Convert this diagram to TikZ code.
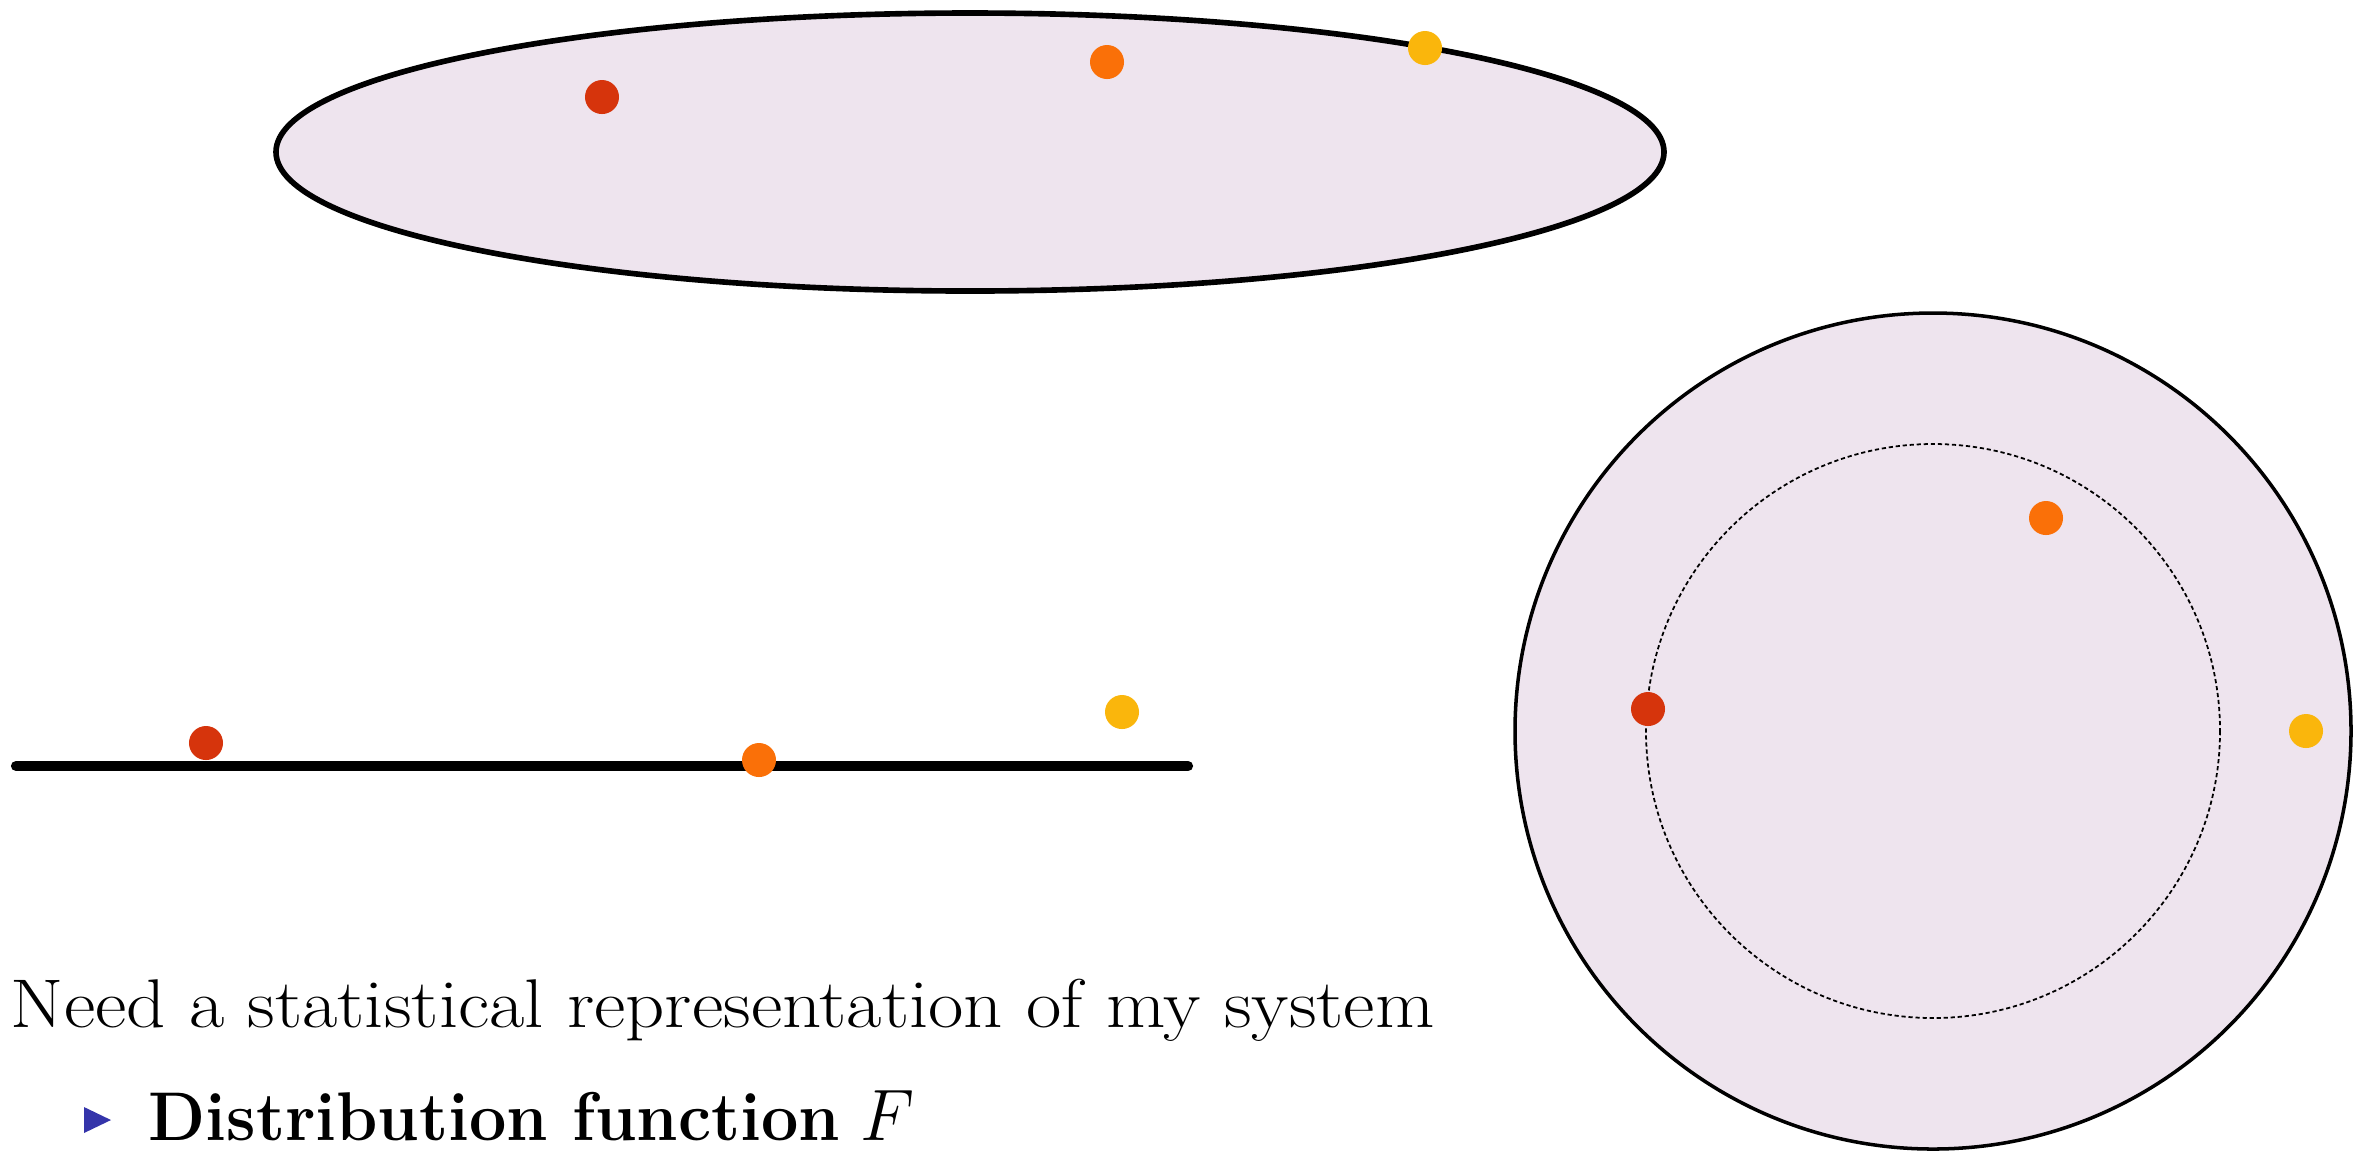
\documentclass[tikz,border=0pt]{standalone}
\usepackage{amsmath,amssymb}
\usepackage{graphicx}
\usepackage{tikz}
\usetikzlibrary{positioning}

\definecolor{lav}{RGB}{238,228,238}
\definecolor{dotred}{RGB}{214,52,12}
\definecolor{dotorange}{RGB}{250,112,8}
\definecolor{dotyellow}{RGB}{250,182,12}
\definecolor{itemblue}{RGB}{52,52,170}

\begin{document}
\begin{tikzpicture}[
  x=0.01cm, y=-0.01cm,
  dot/.style={circle, fill=#1, inner sep=0pt, minimum size=0.34cm},
  txt/.style={anchor=base west, inner sep=0pt, font=\fontsize{19.6}{24}\selectfont}
]
  \useasboundingbox (0,0) rectangle (2361,1153);

  % the three views of the system
  \filldraw[fill=lav, line width=1.6pt] (970,152) ellipse [x radius=694, y radius=139];
  \draw[line width=2.9pt, line cap=round] (16,766) -- (1188,766);
  \filldraw[fill=lav, line width=1pt] (1933,731) circle [radius=418];
  \draw[line width=0.5pt, dash pattern=on 1.2pt off 0.8pt] (1933,731) circle [radius=287];

  \node[dot=dotred] (e1) at (602,97) {};
  \node[dot=dotorange] (e2) at (1107,62) {};
  \node[dot=dotyellow] (e3) at (1425,48) {};

  \node[dot=dotred] (l1) at (206,743) {};
  \node[dot=dotorange] (l2) at (759,760) {};
  \node[dot=dotyellow] (l3) at (1122,712) {};

  \node[dot=dotred] (c1) at (1648,709) {};
  \node[dot=dotorange] (c2) at (2046,518) {};
  \node[dot=dotyellow] (c3) at (2306,731) {};

  \node[txt] (need) at (10,1027) {\scalebox{1.116}[1]{Need a statistical representation of my system}};
  \node[txt] (dist) at (148,1140) {\scalebox{0.962}[1]{\textbf{Distribution function} $F$}};
  \fill[itemblue] (84,1107) -- (111,1120) -- (84,1133) -- cycle;
\end{tikzpicture}
\end{document}
